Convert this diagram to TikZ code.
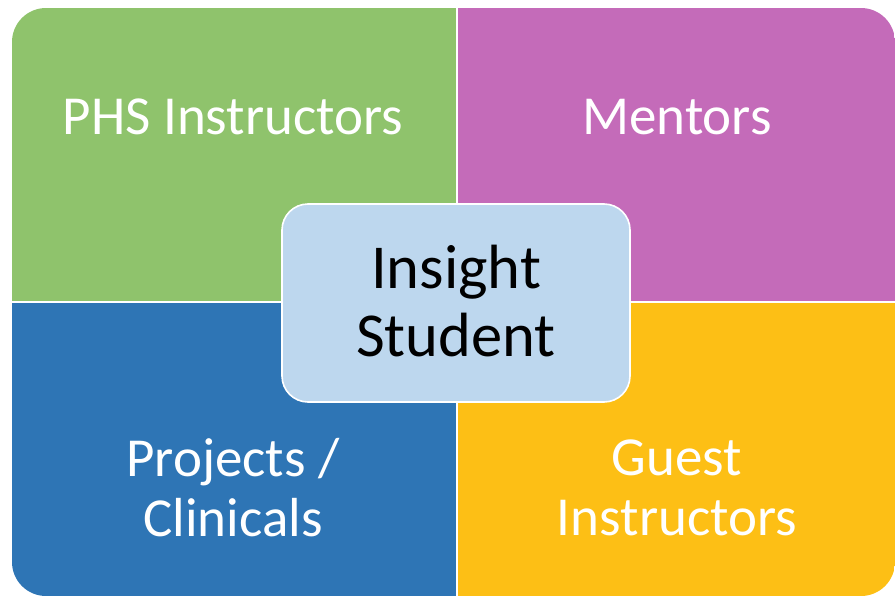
\documentclass[tikz,border=0pt]{standalone}
\usepackage{fontspec}
\setmainfont{Carlito}
\definecolor{qgreen}{HTML}{8FC36C}
\definecolor{qmag}{HTML}{C46BB9}
\definecolor{qblue}{HTML}{2E75B5}
\definecolor{qyellow}{HTML}{FDBF15}
\definecolor{qcenter}{HTML}{BDD7EE}
\begin{document}
\begin{tikzpicture}[x=1pt,y=-1pt,
  quadtext/.style={text=white,font=\fontsize{55}{60}\selectfont,align=center},
  centertext/.style={text=black,font=\fontsize{62.5}{68}\selectfont,align=center}]
\useasboundingbox (0,0) rectangle (895,597);
\begin{scope}
  \clip[rounded corners=34pt] (12,8) rectangle (895,596);
  \fill[qgreen] (12,8) rectangle (457,302);
  \fill[qmag] (457,8) rectangle (895,302);
  \fill[qblue] (12,302) rectangle (457,596);
  \fill[qyellow] (457,302) rectangle (895,596);
  \draw[white,line width=1.6pt] (457,8) -- (457,596);
  \draw[white,line width=1.6pt] (12,302) -- (895,302);
\end{scope}
\draw[white,line width=1.6pt,fill=qcenter,rounded corners=26pt] (282,204) rectangle (630,402);
\node[quadtext] (phs) at (233,117) {PHS Instructors};
\node[quadtext] (men) at (677,117) {Mentors};
\node[quadtext] (proj) at (233,488) {Projects /\\Clinicals};
\node[quadtext] (guest) at (677,488) {Guest\\Instructors};
\node[centertext] (ins) at (456,301) {Insight\\Student};
\end{tikzpicture}
\end{document}
